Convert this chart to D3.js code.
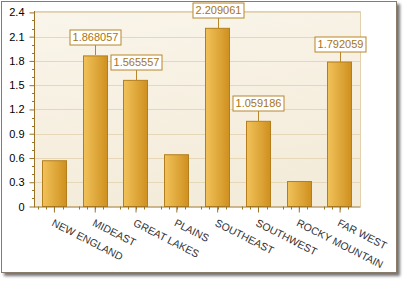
<!DOCTYPE html>
<html>
<head>
<meta charset="utf-8">
<script src="https://cdn.jsdelivr.net/npm/d3@7"></script>
<style>
  body { margin: 0; background: #fff; }
  svg { display: block; font-family: "Liberation Sans", Arial, sans-serif; }
</style>
</head>
<body>
<svg id="chart"></svg>
<script>
const regions = ["NEW ENGLAND", "MIDEAST", "GREAT LAKES", "PLAINS", "SOUTHEAST", "SOUTHWEST", "ROCKY MOUNTAIN", "FAR WEST"];
const values = [0.572, 1.868057, 1.565557, 0.646, 2.209061, 1.059186, 0.315, 1.792059];
// only some points show their value label in the original
const shownLabels = ["1.868057", "1.565557", "2.209061", "1.059186", "1.792059"];
const yTicks = [0, 0.3, 0.6, 0.9, 1.2, 1.5, 1.8, 2.1, 2.4];

const W = 405, H = 282;
const plot = {left: 34, right: 360.5, top: 11, bottom: 206.5};

const svg = d3.select('#chart').attr('width', W).attr('height', H);
const defs = svg.append('defs');

const shadow = defs.append('filter').attr('id', 'shadow')
  .attr('x', '-5%').attr('y', '-5%').attr('width', '115%').attr('height', '115%');
shadow.append('feDropShadow').attr('dx', 3).attr('dy', 3).attr('stdDeviation', 1.6)
  .attr('flood-color', '#000').attr('flood-opacity', 0.55);

const bgGrad = defs.append('linearGradient').attr('id', 'bg')
  .attr('x1', 0).attr('y1', 0).attr('x2', 0.3).attr('y2', 1);
bgGrad.append('stop').attr('offset', '0%').attr('stop-color', '#faf5eb');
bgGrad.append('stop').attr('offset', '100%').attr('stop-color', '#f4ecda');

const barGrad = defs.append('linearGradient').attr('id', 'bar')
  .attr('x1', 0).attr('y1', 0).attr('x2', 1).attr('y2', 0);
barGrad.append('stop').attr('offset', '0%').attr('stop-color', '#f1c25a');
barGrad.append('stop').attr('offset', '100%').attr('stop-color', '#cf901f');

// outer frame
svg.append('rect')
  .attr('x', 1.5).attr('y', 1.5).attr('width', 395).attr('height', 271)
  .attr('fill', '#fff').attr('stroke', '#8a7a6a').attr('filter', 'url(#shadow)');

// scales
const x = d3.scaleBand().domain(regions).range([plot.left, plot.right])
  .paddingInner(0.38).paddingOuter(0.19);
const y = d3.scaleLinear().domain([0, 2.417]).range([plot.bottom, plot.top]);

// plot background
svg.append('rect')
  .attr('x', plot.left).attr('y', plot.top)
  .attr('width', plot.right - plot.left).attr('height', plot.bottom - plot.top)
  .attr('fill', 'url(#bg)');

// grid lines
svg.append('g').selectAll('line').data(yTicks.slice(1)).join('line')
  .attr('x1', plot.left).attr('x2', plot.right)
  .attr('y1', (d) => Math.round(y(d)) + 0.5).attr('y2', (d) => Math.round(y(d)) + 0.5)
  .attr('stroke', '#e5d7b8');

// plot border top/right
svg.append('path')
  .attr('d', `M${plot.left},${plot.top + 0.5}H${plot.right}V${plot.bottom}`)
  .attr('fill', 'none').attr('stroke', '#e2d1ac');

// bars
svg.append('g').selectAll('rect').data(values).join('rect')
  .attr('x', (d, i) => Math.round(x(regions[i])) + 0.5)
  .attr('y', (d) => y(d) + 0.5)
  .attr('width', Math.round(x.bandwidth()) - 1)
  .attr('height', (d) => plot.bottom - y(d) - 0.5)
  .attr('fill', 'url(#bar)').attr('stroke', '#b47e1c');

// y axis
const axisColor = '#9a7329';
const yAxis = d3.axisLeft(y).tickValues(yTicks).tickSize(5).tickPadding(5)
  .tickFormat((d) => d === 0 ? '0' : d3.format('.1f')(d));
const gy = svg.append('g').attr('transform', `translate(${plot.left + 0.5},0)`).call(yAxis);
gy.select('.domain').attr('stroke', axisColor).attr('d', `M0,${plot.top}V${plot.bottom + 0.5}`);
gy.selectAll('.tick line').attr('stroke', axisColor);
gy.selectAll('.tick text').attr('fill', '#000').style('font-size', '11px');
const yMinor = d3.range(0.1, 2.41, 0.1).filter((d) => Math.abs(d * 10 % 3) > 0.01 && Math.abs(d * 10 % 3 - 3) > 0.01);
gy.selectAll('.minor').data(yMinor).join('line').attr('class', 'minor')
  .attr('x1', -2.5).attr('x2', 0)
  .attr('y1', (d) => Math.round(y(d)) + 0.5).attr('y2', (d) => Math.round(y(d)) + 0.5)
  .attr('stroke', axisColor);

// x axis
const xAxis = d3.axisBottom(x).tickSize(6).tickFormat('');
const gx = svg.append('g').attr('transform', `translate(0,${plot.bottom})`).call(xAxis);
gx.select('.domain').attr('stroke', axisColor).attr('d', `M${plot.left},0.5H${plot.right}`);
gx.selectAll('.tick line').attr('stroke', axisColor);
const step = x.step();
const c0 = x(regions[0]) + x.bandwidth() / 2;
const xMinor = d3.range(-4, regions.length * 5).map((j) => c0 + j * step / 5)
  .filter((v, j) => (j + 4) % 5 !== 0 && v > plot.left + 1 && v < plot.right);
gx.selectAll('.minor').data(xMinor).join('line').attr('class', 'minor')
  .attr('x1', (d) => Math.round(d) + 0.5).attr('x2', (d) => Math.round(d) + 0.5)
  .attr('y1', 0).attr('y2', 3)
  .attr('stroke', axisColor);

// category labels, slanted
svg.append('g').selectAll('text').data(regions).join('text')
  .attr('transform', (d) => `translate(${x(d) + x.bandwidth() / 2},${plot.bottom + 12}) rotate(27)`)
  .attr('dy', '0.72em')
  .attr('fill', '#333')
  .style('font-size', '10.5px')
  .text((d) => d);

// value labels
const labelColor = '#b8862b';
const lbl = svg.append('g').selectAll('g')
  .data(values.map((v, i) => ({v, i})).filter((d) => shownLabels.includes(d.v.toFixed(6))))
  .join('g')
  .attr('transform', (d) => `translate(${Math.round(x(regions[d.i]) + x.bandwidth() / 2) + 0.5},${Math.round(y(d.v))})`);
lbl.append('line').attr('x1', 0).attr('x2', 0).attr('y1', 0).attr('y2', -10).attr('stroke', labelColor);
const lt = lbl.append('text')
  .attr('text-anchor', 'middle').attr('y', -14)
  .attr('fill', '#a87412').style('font-size', '11px')
  .text((d) => d.v.toFixed(6));
lt.each(function () {
  const w = this.getComputedTextLength();
  d3.select(this.parentNode).insert('rect', 'text')
    .attr('x', -Math.round(w / 2) - 2.5).attr('y', -25).attr('width', Math.round(w) + 5).attr('height', 15)
    .attr('fill', '#fff').attr('stroke', labelColor);
});
</script>
</body>
</html>
